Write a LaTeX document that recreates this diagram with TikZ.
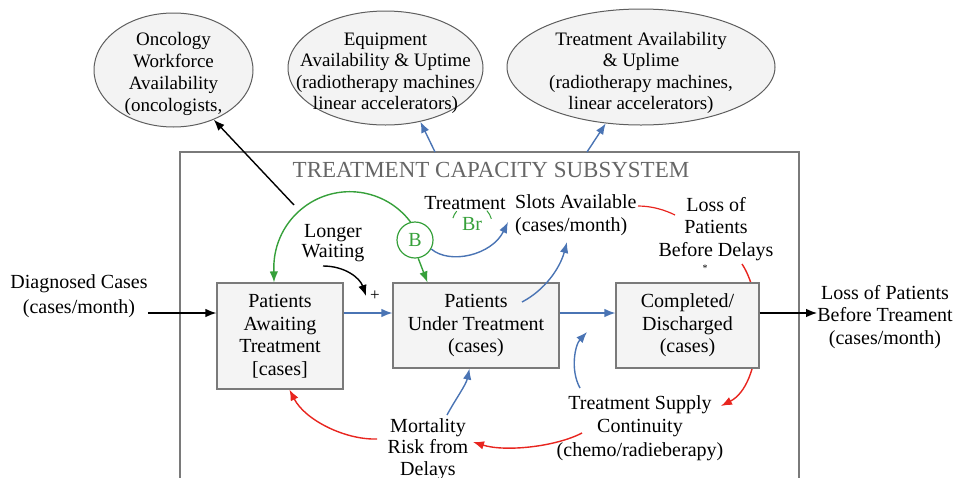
\documentclass[tikz,border=0pt]{standalone}
\usepackage{fontspec}
\setmainfont{Liberation Serif}
\usetikzlibrary{arrows.meta,calc,shapes.geometric}
\definecolor{cblue}{HTML}{4A74B4}
\definecolor{cgreen}{HTML}{36A03A}
\definecolor{cred}{HTML}{E8251F}
\definecolor{boxfill}{HTML}{F4F4F4}
\definecolor{boxline}{HTML}{7A7A7A}
\definecolor{elfill}{HTML}{F3F3F3}
\definecolor{elline}{HTML}{5E5E5E}
\definecolor{titlegray}{HTML}{666666}
\begin{document}
\begin{tikzpicture}[x=1pt,y=-1pt,
  txt/.style={align=center,inner sep=0pt,font=\fontsize{20}{22.5}\selectfont},
  eltxt/.style={align=center,inner sep=0pt,font=\fontsize{19}{21.5}\selectfont},
  stockbox/.style={draw=boxline,fill=boxfill,line width=1.1pt,align=center,inner sep=0pt,font=\fontsize{20}{22.5}\selectfont},
  extsector/.style={ellipse,draw=elline,fill=elfill,line width=1pt,inner sep=0pt},
  arr/.style={-{Latex[length=11pt,width=8.5pt]}},
  conn/.style={line width=1.4pt,arr},
  plainlink/.style={line width=1.4pt},
  frameline/.style={draw=boxline,line width=1.1pt}
]
\useasboundingbox (0,0) rectangle (957,477);

% subsystem frame and heading
\draw[frameline] (180,478) -- (180,152) -- (799,152) -- (799,478);
\node[inner sep=0pt,text=titlegray,font=\fontsize{23}{25}\selectfont] (ttl) at (491,170) {TREATMENT CAPACITY SUBSYSTEM};

% external sectors
\node[extsector,minimum width=159pt,minimum height=114pt] (E1) at (173.5,70) {};
\node[eltxt,font=\fontsize{19}{22}\selectfont] (E1t) at (173.5,74) {Oncology\\Workforce\\Availability\\(oncologists,};
\node[extsector,minimum width=195pt,minimum height=114pt] (E2) at (385.5,68) {};
\node[eltxt] (E2t) at (385.5,73) {Equipment\\Availability \& Uptime\\(radiotherapy machines\\linear accelerators)};
\node[extsector,minimum width=268pt,minimum height=116pt] (E3) at (641,67) {};
\node[eltxt] (E3t) at (641,73) {Treatment Availability\\\& Uplime\\(radiotherapy machines,\\linear accelerators)};

% links from the subsystem to the sectors
\coordinate (wf) at (294,205);
\coordinate (top2) at (435,152);
\coordinate (top3) at (587,152);
\draw[conn,black] (wf) -- (E1.-51);
\draw[conn,cblue] (top2) -- (E2.-57);
\draw[conn,cblue] (top3) -- (E3.-122);

% auxiliary labels
\node[txt,font=\fontsize{20}{25}\selectfont] (diag) at (79,296) {Diagnosed Cases\\(cases/month)};
\node[txt] (lossT) at (885,317) {Loss of Patients\\Before Treament\\(cases/month)};
\node[txt] (lossD) at (716,229) {Loss of\\Patients\\Before Delays};
\node[inner sep=0pt,font=\fontsize{10}{10}\selectfont] (mark) at (705,268) {*};
\node[txt,align=left,anchor=west] (slots) at (515,215) {Slots Available\\(cases/month)};
\node[txt] (treat) at (465,203) {Treatment};
\node[txt,text=cgreen] (Br) at (472,224) {Br};
\node[txt,font=\fontsize{20}{20}\selectfont] (longer) at (333,243) {Longer\\Waiting};
\node[inner sep=0pt,font=\fontsize{17}{17}\selectfont] (plus) at (375,296) {+};
\node[txt,font=\fontsize{20}{23.5}\selectfont] (supply) at (640,428) {Treatment Supply\\Continuity\\(chemo/radieberapy)};
\node[txt,font=\fontsize{20}{21.5}\selectfont] (mort) at (428,449) {Mortality\\Risk from\\Delays};

% loop marker around Br
\draw[cgreen,line width=1pt] (Br.center) ++(-140:20) arc[start angle=-140,end angle=-163,radius=20];
\draw[cgreen,line width=1pt] (Br.center) ++(-42:20) arc[start angle=-42,end angle=-15,radius=20];

% red link passing behind the completed stock
\coordinate (rdA) at (742,264);
\coordinate (rdB) at (721,406);
\draw[conn,cred] (rdA) .. controls (766,300) and (762,385) .. (rdB);

% stocks
\node[stockbox,minimum width=126pt,minimum height=106pt] (A) at (280,336) {Patients\\Awaiting\\Treatment\\{}[cases]};
\node[stockbox,minimum width=166pt,minimum height=85pt] (B) at (476,325.5) {Patients\\Under Treatment\\(cases)};
\node[stockbox,minimum width=143pt,minimum height=85pt] (C) at (687.5,325.5) {Completed/\\Discharged\\(cases)};

% balancing loop marker
\node[circle,draw=cgreen,line width=1.2pt,minimum size=36pt,inner sep=0pt,text=cgreen,font=\fontsize{20}{20}\selectfont] (Bl) at (415,240) {B};

% main flow
\coordinate (flow) at (0,313);
\draw[conn,black] (diag.east |- flow) -- (A.west |- flow);
\draw[conn,cblue] (A.east |- flow) -- (B.west |- flow);
\draw[conn,cblue] (B.east |- flow) -- (C.west |- flow);
\draw[conn,black] (C.east |- flow) -- (lossT.west |- flow);

% feedback links
\draw[conn,cgreen] (Bl.104) arc[start angle=-37,end angle=-180,radius=76] -- ($(A.north)+(-6,0)$);
\draw[conn,cgreen] (Bl.-80) -- ($(B.north west)+(35,0)$);
\draw[conn,cblue] (Bl.-29) .. controls (450,265) and (492,255) .. (508,222);
\coordinate (bslot) at (522,302);
\draw[conn,cblue] (bslot) .. controls (545,290) and (560,268) .. (567,242);
\coordinate (lwA) at (323,266);
\coordinate (lwB) at (366,296);
\draw[conn,black] (lwA) .. controls (345,266) and (360,278) .. (lwB);
\coordinate (rsA) at (638,206);
\coordinate (rsB) at (675,215);
\draw[plainlink,cred,line width=1.2pt] (rsA) .. controls (652,206) and (665,210) .. (rsB);
\coordinate (supUp) at (580,388);
\draw[conn,cblue] (supUp) .. controls (570,370) and (575,345) .. (587,332);
\coordinate (supLeft) at (582,433);
\draw[conn,cred] (supLeft) .. controls (555,447) and (505,452) .. (473,442);
\coordinate (mortUp) at (447,415);
\draw[conn,cblue] (mortUp) .. controls (455,400) and (466,385) .. ($(B.south west)+(77,0)$);
\coordinate (mortLeft) at (377,439);
\draw[conn,cred] (mortLeft) .. controls (345,440) and (305,420) .. ($(A.south west)+(73,0)$);
\end{tikzpicture}
\end{document}
